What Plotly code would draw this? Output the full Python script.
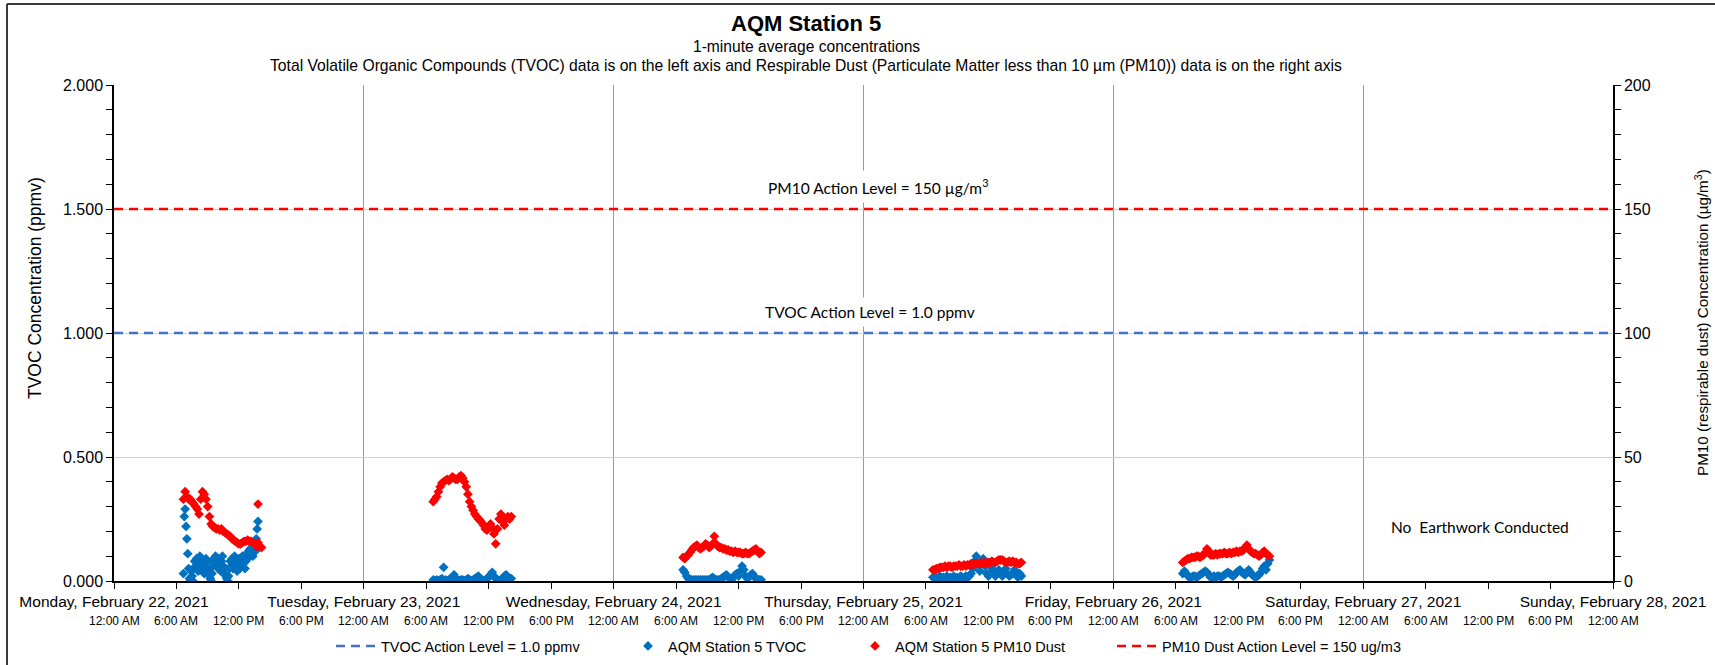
import pandas as pd
import plotly.graph_objects as go

# ---------------- data ----------------
DAY_TICKS = ["2021-02-22", "2021-02-23", "2021-02-24", "2021-02-25",
             "2021-02-26", "2021-02-27", "2021-02-28"]
DAY_LABELS = ["Monday, February 22, 2021", "Tuesday, February 23, 2021",
              "Wednesday, February 24, 2021", "Thursday, February 25, 2021",
              "Friday, February 26, 2021", "Saturday, February 27, 2021",
              "Sunday, February 28, 2021"]
TIME_LABELS = ["12:00 AM", "6:00 AM", "12:00 PM", "6:00 PM"] * 6 + ["12:00 AM"]

TVOC_ACTION = 1.0
PM10_ACTION = 150

# TVOC (ppmv)
tvoc_mon_start = "2021-02-22 06:40"   # 5-minute readings
tvoc_mon = [0.03, 0.26, 0.29, 0.22,
            0.17, 0.11, 0.05, 0.01, 0.00, 0.04, 0.02, 0.00, 0.05, 0.08, 0.06, 0.09,
            0.07, 0.04, 0.08, 0.10, 0.06, 0.09, 0.05, 0.08, 0.03, 0.07, 0.09, 0.05,
            0.08, 0.04, 0.02, 0.01, 0.00, 0.03, 0.06, 0.09, 0.07, 0.10, 0.06, 0.08,
            0.05, 0.09, 0.07, 0.04, 0.08, 0.10, 0.06, 0.03, 0.05, 0.02, 0.01, 0.00,
            0.02, 0.05, 0.08, 0.06, 0.09, 0.05, 0.07, 0.10, 0.06, 0.08, 0.04, 0.07,
            0.09, 0.05, 0.08, 0.06, 0.10, 0.07, 0.09, 0.05, 0.08, 0.11, 0.09, 0.12,
            0.10, 0.13, 0.11, 0.12, 0.10, 0.13, 0.14, 0.12, 0.17, 0.21, 0.24]
tvoc_tue_start = "2021-02-23 06:40"   # 10-minute readings
tvoc_tue = [0.005, 0.0, 0.005, 0.0, 0.005, 0.01, 0.055, 0.005, 0.0, 0.005, 0.01, 0.015,
            0.025, 0.01, 0.005, 0.0, 0.005, 0.005, 0.0, 0.005, 0.01, 0.005, 0.0, 0.005,
            0.01, 0.015, 0.02, 0.01, 0.005, 0.0, 0.005, 0.01, 0.015, 0.025, 0.035, 0.02,
            0.01, 0.005, 0.0, 0.005, 0.01, 0.02, 0.025, 0.015, 0.005, 0.01]
tvoc_wed_start = "2021-02-24 06:40"
tvoc_wed = [0.045, 0.035, 0.02, 0.01, 0.005, 0.005, 0.005, 0.005, 0.005, 0.005, 0.005, 0.005,
            0.005, 0.005, 0.005, 0.005, 0.01, 0.015, 0.01, 0.005, 0.005, 0.005, 0.01, 0.015,
            0.02, 0.025, 0.015, 0.01, 0.005, 0.015, 0.025, 0.03, 0.02, 0.04, 0.06, 0.045,
            0.02, 0.01, 0.015, 0.025, 0.03, 0.02, 0.01, 0.005, 0.005, 0.005]
tvoc_thu_start = "2021-02-25 06:40"
tvoc_thu = [0.015, 0.01, 0.015, 0.01, 0.02, 0.01, 0.015, 0.01, 0.02, 0.01, 0.015, 0.01,
            0.02, 0.01, 0.015, 0.01, 0.02, 0.015, 0.01, 0.02, 0.015, 0.02, 0.03, 0.05,
            0.08, 0.10, 0.07, 0.04, 0.07, 0.09, 0.06, 0.03, 0.02, 0.03, 0.05, 0.04,
            0.02, 0.03, 0.045, 0.03, 0.02, 0.035, 0.05, 0.03, 0.02, 0.025, 0.03, 0.045,
            0.03, 0.015, 0.03, 0.02]
tvoc_fri_start = "2021-02-26 06:40"
tvoc_fri = [0.03, 0.04, 0.03, 0.02, 0.015, 0.015, 0.02, 0.02, 0.015, 0.02, 0.025, 0.03,
            0.035, 0.04, 0.035, 0.025, 0.015, 0.015, 0.02, 0.015, 0.02, 0.02, 0.015, 0.02,
            0.025, 0.03, 0.035, 0.03, 0.025, 0.02, 0.025, 0.035, 0.04, 0.045, 0.035, 0.03,
            0.025, 0.035, 0.045, 0.035, 0.025, 0.02, 0.015, 0.02, 0.025, 0.035, 0.05, 0.06,
            0.045, 0.07, 0.085]

# PM10 (ug/m3), 10-minute readings
pm10_mon_start = "2021-02-22 06:40"
pm10_mon = [33, 36, 34, 33, 33, 32, 31, 30, 29, 27, 33, 36,
            35, 33, 30, 26, 23, 22, 21.5, 21, 21, 20.5, 21, 20,
            19.5, 19, 18.5, 18, 17, 16.5, 16, 15.5, 15, 15, 15.5, 16,
            16, 16.5, 16, 16, 15.5, 15, 14, 15.5, 14, 13.5]
pm10_mon_extra_time = ["2021-02-22 13:50"]
pm10_mon_extra = [31]
pm10_tue_start = "2021-02-23 06:40"
pm10_tue = [32, 33, 34, 36, 38, 39.5, 40, 40.5, 41, 40.5, 41, 42,
            41.5, 41, 41, 42, 42.5, 41.5, 40, 38, 35, 32, 30, 28.5,
            27, 26, 25, 24.5, 23.5, 22.5, 21, 20.5, 21.5, 23, 21.5, 19,
            15, 21, 25, 27, 24, 22.5, 25, 26, 25, 26]
pm10_wed_start = "2021-02-24 06:40"
pm10_wed = [9.5, 9, 10, 10.5, 11.5, 12.5, 13.5, 14, 14.5, 13.5, 13, 13.5,
            14, 15, 14.5, 13.5, 14, 15, 18, 15, 14, 13.5, 13.5, 13,
            13, 12.5, 12.5, 12, 12, 11.5, 12, 11.5, 11.5, 11.5, 11, 11,
            11.5, 11, 11, 11.5, 12, 12.5, 13, 12, 11, 11.5]
pm10_thu_start = "2021-02-25 06:40"
pm10_thu = [4.5, 4.5, 5, 5, 5.5, 5.5, 5.5, 6, 5.5, 6, 6, 5.5,
            6, 6, 6, 6.5, 6, 6, 6.5, 6, 6.5, 6.5, 7, 6.5,
            7, 7, 7, 7, 7.5, 7, 7.5, 7, 7.5, 7.5, 8, 7.5,
            7.5, 8, 8.5, 8.5, 8.5, 8, 7.5, 7.5, 8, 7.5, 8, 7.5,
            7.5, 7, 7, 7.5]
pm10_fri_start = "2021-02-26 06:40"
pm10_fri = [7.5, 8, 8.5, 9, 9, 9.5, 9.5, 9.5, 10, 10, 9.5, 10,
            10.5, 11.5, 13, 12, 10.5, 10.5, 10.5, 11, 10.5, 11, 11, 11,
            11.5, 11, 11, 11.5, 11, 11.5, 11.5, 12, 11.5, 12, 12, 12.5,
            13.5, 14.5, 13, 12, 11.5, 11, 11, 10.5, 10, 10.5, 11.5, 12,
            11, 10.5, 10]

# ---------------- assemble ----------------
def times(start, n, step):
    return list(pd.date_range(start, periods=n, freq=step))

tvoc_x = (times(tvoc_mon_start, len(tvoc_mon), "5min")
          + times(tvoc_tue_start, len(tvoc_tue), "10min")
          + times(tvoc_wed_start, len(tvoc_wed), "10min")
          + times(tvoc_thu_start, len(tvoc_thu), "10min")
          + times(tvoc_fri_start, len(tvoc_fri), "10min"))
tvoc_y = tvoc_mon + tvoc_tue + tvoc_wed + tvoc_thu + tvoc_fri

pm10_x = (times(pm10_mon_start, len(pm10_mon), "10min")
          + [pd.Timestamp(t) for t in pm10_mon_extra_time]
          + times(pm10_tue_start, len(pm10_tue), "10min")
          + times(pm10_wed_start, len(pm10_wed), "10min")
          + times(pm10_thu_start, len(pm10_thu), "10min")
          + times(pm10_fri_start, len(pm10_fri), "10min"))
pm10_y = pm10_mon + pm10_mon_extra + pm10_tue + pm10_wed + pm10_thu + pm10_fri

X0, X1 = DAY_TICKS[0], DAY_TICKS[-1]

# ---------------- layout geometry ----------------
W, H = 1715, 665
L, R, T, B = 114, 1613, 85, 581


def px(xp):
    return (xp - L) / (R - L)


def py(yp):
    return (B - yp) / (B - T)


FONT = "Liberation Sans, Arial, sans-serif"
FONT2 = "Lato, Carlito, Calibri, sans-serif"
BLUE_LINE = "#4472C4"
BLUE = "#0070C0"
RED = "#FF0000"

fig = go.Figure()

fig.add_trace(go.Scatter(
    x=[X0, X1], y=[TVOC_ACTION, TVOC_ACTION], mode="lines",
    name="TVOC Action Level = 1.0 ppmv",
    line=dict(color=BLUE_LINE, width=2.5, dash="9px,6px"),
    legend="legend", hoverinfo="skip"))
fig.add_trace(go.Scatter(
    x=tvoc_x, y=tvoc_y, mode="markers", name="AQM Station 5 TVOC",
    marker=dict(symbol="diamond", size=7.5, color=BLUE, line=dict(width=0)),
    legend="legend2"))
fig.add_trace(go.Scatter(
    x=pm10_x, y=pm10_y, mode="markers", name="AQM Station 5 PM10 Dust",
    marker=dict(symbol="diamond", size=7.5, color=RED, line=dict(width=0)),
    yaxis="y2", legend="legend3"))
fig.add_trace(go.Scatter(
    x=[X0, X1], y=[PM10_ACTION, PM10_ACTION], mode="lines",
    name="PM10 Dust Action Level = 150 ug/m3",
    line=dict(color=RED, width=2.5, dash="9px,6px"),
    yaxis="y2", legend="legend4", hoverinfo="skip"))

annotations = []
# titles
annotations.append(dict(text="<b>AQM Station 5</b>", x=px(806), y=py(24), xref="paper", yref="paper",
                        showarrow=False, font=dict(size=22, family=FONT, color="black"),
                        xanchor="center", yanchor="middle"))
annotations.append(dict(text="1-minute average concentrations", x=px(806), y=py(47),
                        xref="paper", yref="paper", showarrow=False,
                        font=dict(size=15.6, family=FONT, color="black"),
                        xanchor="center", yanchor="middle"))
annotations.append(dict(text="Total Volatile Organic Compounds (TVOC) data is on the left axis and Respirable Dust "
                             "(Particulate Matter less than 10 µm (PM10)) data is on the right axis",
                        x=px(806), y=py(66), xref="paper", yref="paper", showarrow=False,
                        font=dict(size=15.7, family=FONT, color="black"),
                        xanchor="center", yanchor="middle"))
# axis titles
annotations.append(dict(text="TVOC Concentration (ppmv)", x=px(35), y=py(288), xref="paper", yref="paper",
                        showarrow=False, textangle=-90, font=dict(size=17.5, family=FONT, color="black"),
                        xanchor="center", yanchor="middle"))
annotations.append(dict(text="PM10 (respirable dust) Concentration (µg/m<sup>3</sup>)", x=px(1701), y=py(322),
                        xref="paper", yref="paper", showarrow=False, textangle=-90,
                        font=dict(size=15.2, family=FONT, color="black"),
                        xanchor="center", yanchor="middle"))
# in-plot labels
annotations.append(dict(text="PM10 Action Level = 150 µg/m<sup>3</sup>", x=px(878), y=py(186),
                        xref="paper", yref="paper", showarrow=False, bgcolor="white",
                        font=dict(size=15.5, family=FONT2, color="black"),
                        xanchor="center", yanchor="middle", borderpad=5))
annotations.append(dict(text="TVOC Action Level = 1.0 ppmv", x=px(870), y=py(312),
                        xref="paper", yref="paper", showarrow=False, bgcolor="white",
                        font=dict(size=15.5, family=FONT2, color="black"),
                        xanchor="center", yanchor="middle", borderpad=5))
annotations.append(dict(text="No  Earthwork Conducted", x=px(1480), y=py(527),
                        xref="paper", yref="paper", showarrow=False,
                        font=dict(size=15.5, family=FONT2, color="black"),
                        xanchor="center", yanchor="middle"))
# second row of x tick labels (times)
tick_times = list(pd.date_range(X0, X1, freq="6h"))
for t, lab in zip(tick_times, TIME_LABELS):
    annotations.append(dict(text=lab, x=t, y=py(621), xref="x", yref="paper", showarrow=False,
                            font=dict(size=12, family=FONT, color="black"),
                            xanchor="center", yanchor="middle"))

shapes = [
    dict(type="line", xref="paper", yref="paper", x0=px(7), x1=px(1720), y0=py(4), y1=py(4),
         line=dict(color="#3a3a3a", width=2)),
    dict(type="line", xref="paper", yref="paper", x0=px(7), x1=px(7), y0=py(4), y1=py(670),
         line=dict(color="#3a3a3a", width=2)),
]

leg_y = (H - 646) / H
legend_common = dict(orientation="h", yanchor="middle", y=leg_y, xanchor="left",
                     xref="container", yref="container",
                     font=dict(size=14.5, family=FONT, color="black"),
                     bgcolor="rgba(0,0,0,0)", tracegroupgap=0)

fig.update_layout(
    width=W, height=H, autosize=False,
    margin=dict(l=L, r=W - R, t=T, b=H - B, pad=0),
    paper_bgcolor="white", plot_bgcolor="white",
    font=dict(family=FONT, color="black", size=15),
    showlegend=True,
    legend=dict(x=331 / W, itemwidth=40, **legend_common),
    legend2=dict(x=628 / W, itemwidth=30, **legend_common),
    legend3=dict(x=855 / W, itemwidth=30, **legend_common),
    legend4=dict(x=1112 / W, itemwidth=40, **legend_common),
    xaxis=dict(type="date", range=[X0, X1], tickvals=DAY_TICKS, ticktext=DAY_LABELS,
               tickfont=dict(size=15.5, family=FONT, color="black"), automargin=False,
               ticks="outside", ticklen=6, tickcolor="black", tickwidth=1,
               showline=True, linecolor="black", linewidth=1.5,
               showgrid=True, gridcolor="#9a9a9a", gridwidth=1, zeroline=False,
               minor=dict(dtick=6 * 3600 * 1000, ticks="outside", ticklen=6,
                          tickcolor="black", showgrid=False)),
    yaxis=dict(range=[0, 2], tickvals=[0, 0.5, 1.0, 1.5, 2.0], tickformat=".3f",
               tickfont=dict(size=16, family=FONT, color="black"), automargin=False,
               ticks="outside", ticklen=6, tickcolor="black",
               showline=True, linecolor="black", linewidth=1.5,
               showgrid=True, gridcolor="#d0d0d0", gridwidth=1, zeroline=False,
               minor=dict(dtick=0.1, ticks="outside", ticklen=6, tickcolor="black", showgrid=False)),
    yaxis2=dict(range=[0, 200], tickvals=[0, 50, 100, 150, 200], overlaying="y", side="right",
                tickfont=dict(size=16, family=FONT, color="black"), automargin=False,
                ticks="outside", ticklen=6, tickcolor="black",
                showline=True, linecolor="black", linewidth=1.5,
                showgrid=False, zeroline=False,
                minor=dict(dtick=10, ticks="outside", ticklen=6, tickcolor="black", showgrid=False)),
    annotations=annotations,
    shapes=shapes,
)

fig.write_html("out.html", config={"displayModeBar": False},
               post_script="document.body.style.margin='0';")
